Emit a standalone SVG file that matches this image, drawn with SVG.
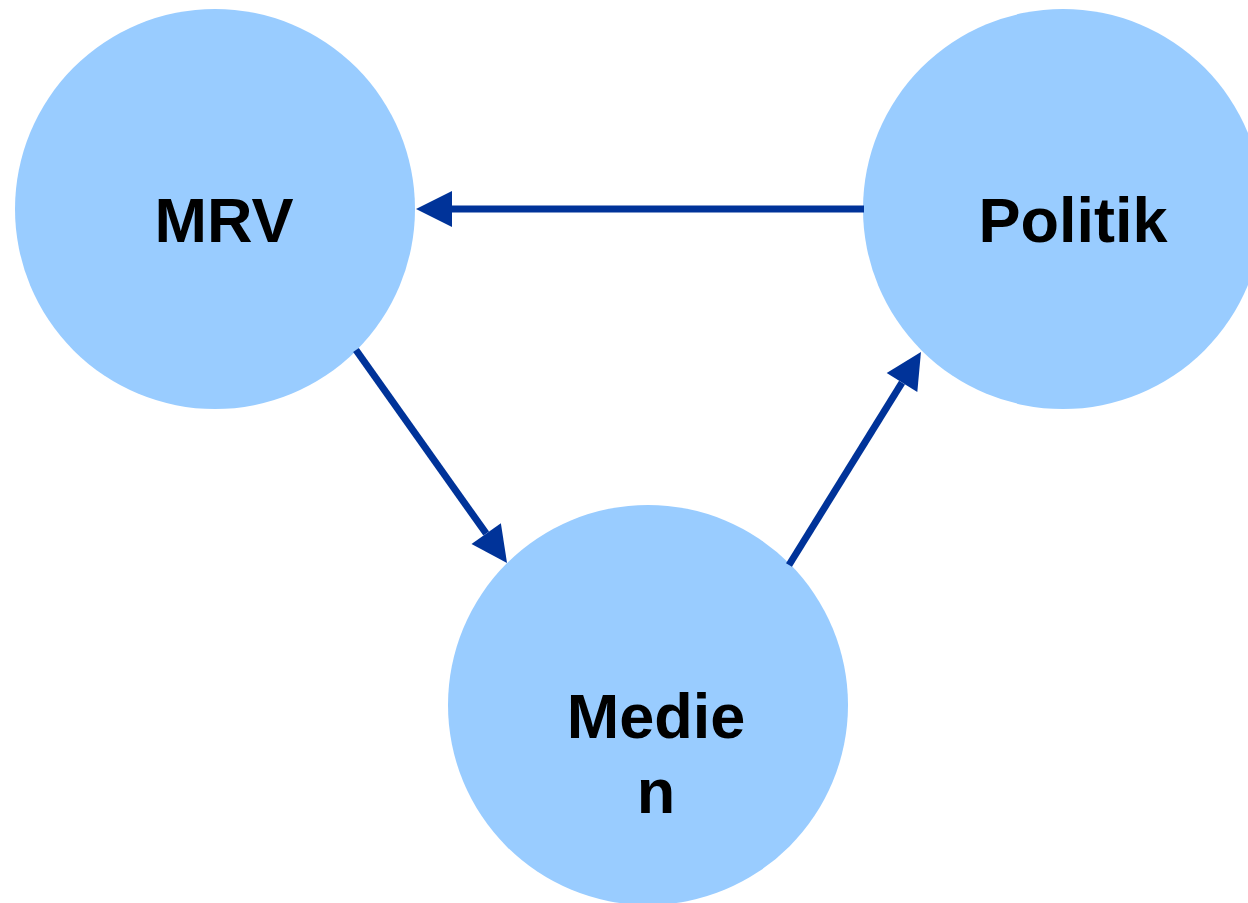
<svg xmlns="http://www.w3.org/2000/svg" width="1248" height="903" viewBox="0 0 1248 903">
  <style>
    .node { fill: #99CCFF; }
    .label { font-family: "Liberation Sans", Arial, sans-serif; font-weight: bold; font-size: 63px; fill: #000000; text-anchor: middle; }
    .edge { stroke: #003399; stroke-width: 7; fill: none; marker-end: url(#arrow); }
  </style>
  <defs>
    <marker id="arrow" markerUnits="userSpaceOnUse" markerWidth="37" markerHeight="36" refX="0" refY="18" orient="auto" overflow="visible">
      <path d="M0,0 L36,18 L0,36 z" fill="#003399"/>
    </marker>
  </defs>
  <rect width="1248" height="903" fill="#FFFFFF"/>
  <g id="node-mrv">
    <circle class="node" cx="215" cy="209" r="200"/>
    <text class="label" x="224" y="242">MRV</text>
  </g>
  <g id="node-politik">
    <circle class="node" cx="1063" cy="209" r="200"/>
    <text class="label" x="1073" y="242">Politik</text>
  </g>
  <g id="node-medien">
    <circle class="node" cx="648" cy="705" r="200"/>
    <text class="label" x="656" y="738">Medie</text>
    <text class="label" x="656" y="813">n</text>
  </g>
  <g id="connectors">
    <line class="edge" x1="864" y1="209" x2="452" y2="209"/>
    <line class="edge" x1="356" y1="350" x2="486.2" y2="533.6"/>
    <line class="edge" x1="789" y1="565" x2="902" y2="382.6"/>
  </g>
</svg>
